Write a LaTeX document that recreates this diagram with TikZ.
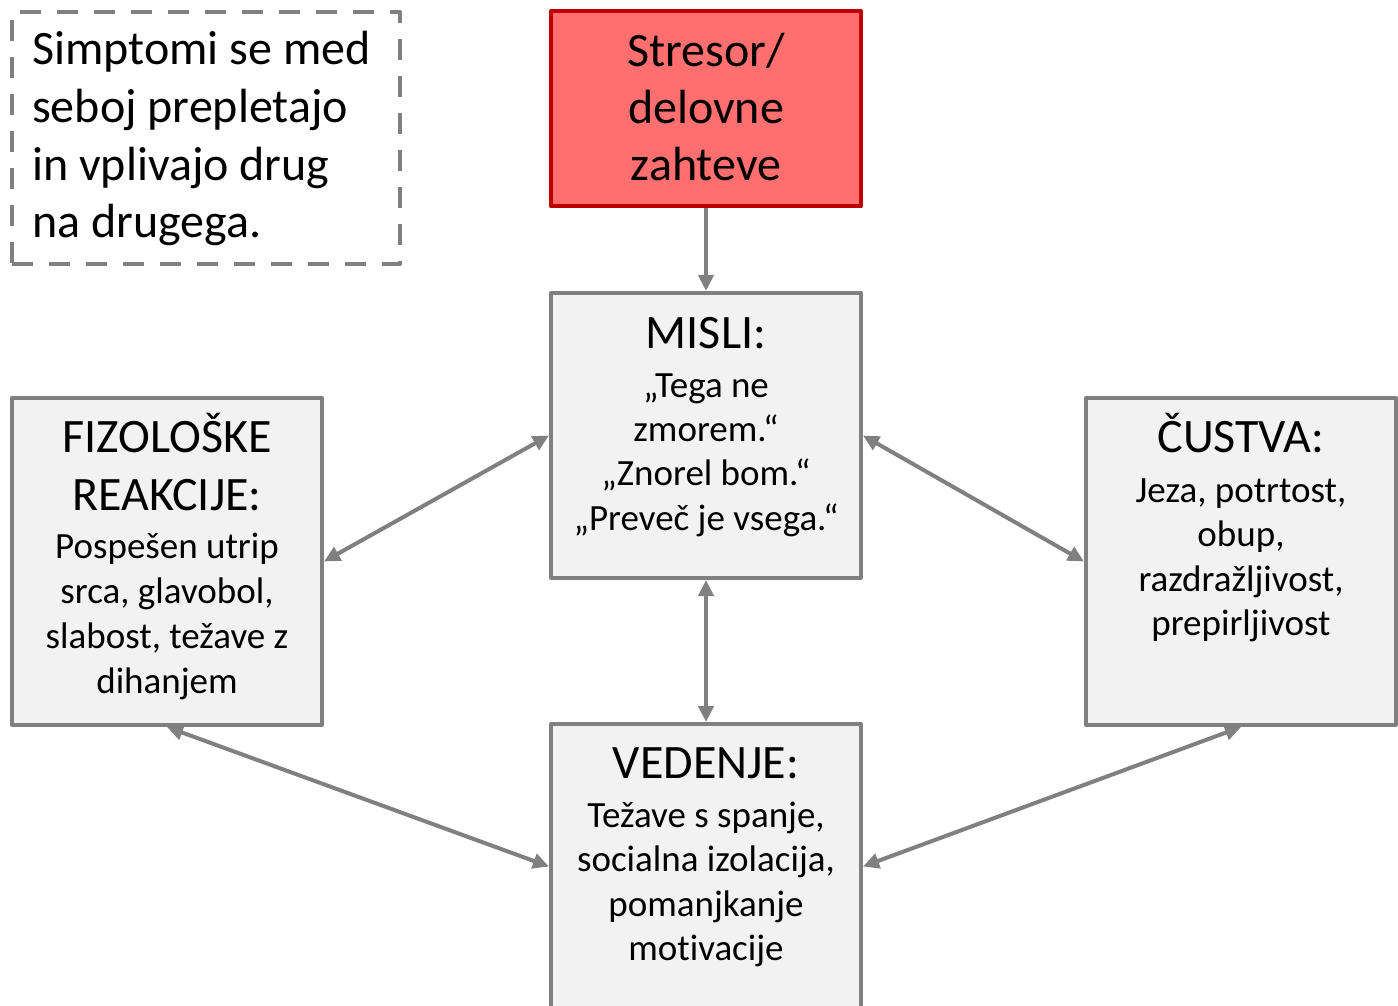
\documentclass[tikz,border=0pt]{standalone}
\usepackage{fontspec}
\setmainfont[Ligatures=NoCommon]{Carlito}
\usetikzlibrary{arrows.meta}
\definecolor{edgegray}{HTML}{808080}
\definecolor{boxfill}{HTML}{F2F2F2}
\definecolor{stressfill}{HTML}{FF6F6F}
\definecolor{stressedge}{HTML}{C00000}
\tikzset{
  panel/.style={draw=edgegray, fill=boxfill, line width=4pt, line join=round,
    minimum width=310pt, inner sep=0pt, rectangle},
  stressbox/.style={draw=stressedge, fill=stressfill, line width=4pt, line join=round,
    minimum width=310pt, minimum height=195pt, inner sep=0pt, rectangle},
  notebox/.style={draw=edgegray, line width=4pt, line join=round,
    dash pattern=on 21pt off 16pt, minimum width=388pt, minimum height=252pt,
    inner sep=0pt, rectangle},
  bigtxt/.style={font=\fontsize{48}{58}\selectfont, inner sep=0pt, anchor=base},
  smalltxt/.style={font=\fontsize{37}{45}\selectfont, inner sep=0pt, anchor=base},
  notetxt/.style={font=\fontsize{48}{58}\selectfont, inner sep=0pt, anchor=base west},
  tip/.tip={Triangle[length=16pt,width=15pt]},
  link/.style={draw=edgegray, line width=4pt, tip-tip},
  onelink/.style={draw=edgegray, line width=4pt, -tip}
}
\begin{document}
\begin{tikzpicture}[x=1pt,y=-1pt]
\useasboundingbox (0,0) rectangle (1398,1006);

% boxes
\node[notebox] (note) at (206,138) {};
\node[stressbox] (stres) at (706,108.5) {};
\node[panel, minimum height=285pt] (misli) at (706,435.5) {};
\node[panel, minimum height=327pt] (fiz) at (167,561.5) {};
\node[panel, minimum height=327pt] (cus) at (1241,561.5) {};
\node[panel, minimum height=285pt] (ved) at (706,866.5) {};

% note text
\node[notetxt] (n1) at (32,65) {Simptomi se med};
\node[notetxt] (n2) at (32,122.5) {seboj prepletajo};
\node[notetxt] (n3) at (32,180) {in vplivajo drug};
\node[notetxt] (n4) at (32,237.5) {na drugega.};

% stressor text
\node[bigtxt] (s1) at (706,67) {Stresor/};
\node[bigtxt] (s2) at (706,124) {delovne};
\node[bigtxt] (s3) at (706,181) {zahteve};

% thoughts
\node[bigtxt] (m0) at (706,348) {MISLI:};
\node[smalltxt] (m1) at (706,397) {„Tega ne};
\node[smalltxt] (m2) at (706,441) {zmorem.“};
\node[smalltxt] (m3) at (706,485.5) {„Znorel bom.“};
\node[smalltxt] (m4) at (706,530) {„Preveč je vsega.“};

% physiological reactions
\node[bigtxt] (f0) at (167,452) {FIZOLOŠKE};
\node[bigtxt] (f1) at (167,510) {REAKCIJE:};
\node[smalltxt] (f2) at (167,558) {Pospešen utrip};
\node[smalltxt] (f3) at (167,603) {srca, glavobol,};
\node[smalltxt] (f4) at (167,648) {slabost, težave z};
\node[smalltxt] (f5) at (167,693) {dihanjem};

% emotions
\node[bigtxt] (c0) at (1241,452) {ČUSTVA:};
\node[smalltxt] (c1) at (1241,502) {Jeza, potrtost,};
\node[smalltxt] (c2) at (1241,546.5) {obup,};
\node[smalltxt] (c3) at (1241,591) {razdražljivost,};
\node[smalltxt] (c4) at (1241,635.5) {prepirljivost};

% behaviour
\node[bigtxt] (v0) at (706,778) {VEDENJE:};
\node[smalltxt] (v1) at (706,827) {Težave s spanje,};
\node[smalltxt] (v2) at (706,871.5) {socialna izolacija,};
\node[smalltxt] (v3) at (706,916) {pomanjkanje};
\node[smalltxt] (v4) at (706,960.5) {motivacije};

% connectors
\draw[onelink] (stres.south) -- (misli.north);
\draw[link] (misli.south) -- (ved.north);
\draw[link] (misli.west) -- (fiz.east);
\draw[link] (misli.east) -- (cus.west);
\draw[link] (fiz.south) -- (ved.west);
\draw[link] (cus.south) -- (ved.east);
\end{tikzpicture}
\end{document}
